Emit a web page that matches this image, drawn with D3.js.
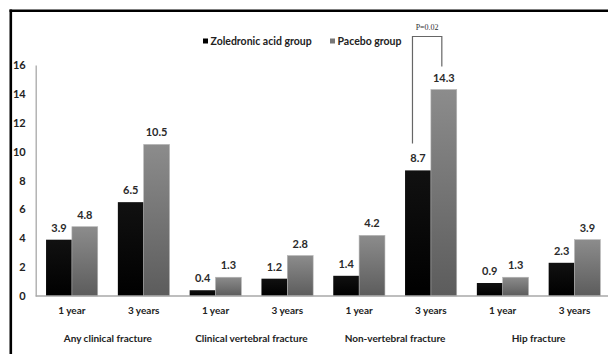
<!DOCTYPE html>
<html><head><meta charset="utf-8">
<script src="https://cdn.jsdelivr.net/npm/d3@7"></script>
<style>html,body{margin:0;padding:0;background:#fff}svg{display:block}</style>
</head><body>
<svg id="c" width="608" height="354"></svg>
<script>
const groups = ["Any clinical fracture","Clinical vertebral fracture","Non-vertebral fracture","Hip fracture"];
const periods = ["1 year","3 years"];
const series = ["Zoledronic acid group","Pacebo group"];
const zoledronic = [3.9, 6.5, 0.4, 1.2, 1.4, 8.7, 0.9, 2.3];
const placebo = [4.8, 10.5, 1.3, 2.8, 4.2, 14.3, 1.3, 3.9];
const yTicks = [0,2,4,6,8,10,12,14,16];
const pLabel = "P=0.02";

const cats = [];
groups.forEach(g => periods.forEach(p => cats.push({g, p})));
const data = cats.map((c,i) => ({key: i, g: c.g, p: c.p, vals: [zoledronic[i], placebo[i]]}));

const svg = d3.select("#c");
const FONT = "Lato, 'Open Sans', sans-serif";

const defs = svg.append("defs");
const lg = defs.append("linearGradient").attr("id","gg").attr("x1",0).attr("x2",0).attr("y1",0).attr("y2",1);
lg.append("stop").attr("offset","0%").attr("stop-color","#8c8c8c");
lg.append("stop").attr("offset","100%").attr("stop-color","#5c5c5c");
const lb = defs.append("linearGradient").attr("id","bg").attr("x1",0).attr("x2",0).attr("y1",0).attr("y2",1);
lb.append("stop").attr("offset","0%").attr("stop-color","#111");
lb.append("stop").attr("offset","100%").attr("stop-color","#000");

// frame
svg.append("line").attr("x1",10.8).attr("x2",10.8).attr("y1",9.5).attr("y2",354).attr("stroke","#000").attr("stroke-width",2.6);
svg.append("line").attr("x1",9.5).attr("x2",608).attr("y1",10.8).attr("y2",10.8).attr("stroke","#000").attr("stroke-width",2.6);

const x0 = d3.scaleBand().domain(data.map(d=>d.key)).range([36, 610.4]).paddingInner(0.28).paddingOuter(0.14);
const x1 = d3.scaleBand().domain([0,1]).range([0, x0.bandwidth()]);
const y = d3.scaleLinear().domain([0,16]).range([296, 65]);

// y axis
const yAxis = d3.axisLeft(y).tickValues(yTicks).tickSize(0).tickPadding(10);
const ya = svg.append("g").attr("transform","translate(35.7,0)").call(yAxis);
ya.select(".domain").attr("stroke","#a8a8a8").attr("stroke-width",1.3);
ya.selectAll("text").attr("font-family",FONT).attr("font-size",11).attr("font-weight",700).attr("fill","#222");

// bars
const gBars = svg.append("g");
const grp = gBars.selectAll("g").data(data).join("g").attr("transform", d=>`translate(${x0(d.key)},0)`);
grp.selectAll("rect").data(d=>d.vals.map((v,j)=>({v,j}))).join("rect")
  .attr("x", d=>x1(d.j)).attr("width", x1.bandwidth())
  .attr("y", d=>y(d.v)).attr("height", d=>y(0)-y(d.v))
  .attr("fill", d=>d.j===0 ? "url(#bg)" : "url(#gg)")
  .attr("stroke", d=>d.j===0 ? "none" : "#b5b5b5").attr("stroke-width",0.6);
grp.selectAll("text").data(d=>d.vals.map((v,j)=>({v,j}))).join("text")
  .attr("x", d=>x1(d.j)+x1.bandwidth()/2).attr("y", d=>y(d.v)-8)
  .attr("text-anchor","middle").attr("font-family",FONT).attr("font-size",11).attr("font-weight",700).attr("fill","#2a2a2a")
  .text(d=>d.v.toFixed(1));

// baseline
svg.append("line").attr("x1",35.7).attr("x2",608).attr("y1",y(0)).attr("y2",y(0)).attr("stroke","#a8a8a8").attr("stroke-width",1.3);

// x labels
const xa = d3.axisBottom(x0).tickSize(0).tickPadding(0).tickFormat(k=>data[k].p);
const xg = svg.append("g").attr("transform",`translate(0,${y(0)})`).call(xa);
xg.select(".domain").remove();
xg.selectAll("text").attr("dy",0).attr("y",18).attr("font-family",FONT).attr("font-size",10).attr("font-weight",700).attr("fill","#222");

// group labels
groups.forEach((g,gi)=>{
  const a = x0(gi*2) + x0.bandwidth()/2, b = x0(gi*2+1) + x0.bandwidth()/2;
  svg.append("text").attr("x",(a+b)/2).attr("y",342).attr("text-anchor","middle")
    .attr("font-family",FONT).attr("font-size",10).attr("font-weight",700).attr("fill","#222").text(g);
});

// legend
const leg = [{x:203, c:"#000", t:series[0]},{x:330, c:"#777", t:series[1]}];
leg.forEach(l=>{
  svg.append("rect").attr("x",l.x).attr("y",38.5).attr("width",5).attr("height",5).attr("fill",l.c);
  svg.append("text").attr("x",l.x+7.5).attr("y",45).attr("font-family",FONT).attr("font-size",10.5).attr("font-weight",700).attr("fill","#222").text(l.t);
});

// significance bracket over Non-vertebral 3 years
const k = 5;
const lx = x0(k) + x1.bandwidth()/2 - 5.5;
const rx = x0(k) + x1(1) + x1.bandwidth()/2 - 2;
const topY = 36.5;
svg.append("path")
  .attr("d", `M${lx},${y(zoledronic[k])-27}V${topY}H${rx}V${y(placebo[k])-23}`)
  .attr("fill","none").attr("stroke","#666").attr("stroke-width",1.2);
svg.append("text").attr("x",(lx+rx)/2).attr("y",30).attr("text-anchor","middle")
  .attr("font-family","'Liberation Serif', serif").attr("font-size",8).attr("fill","#333").text(pLabel);
</script>
</body></html>
